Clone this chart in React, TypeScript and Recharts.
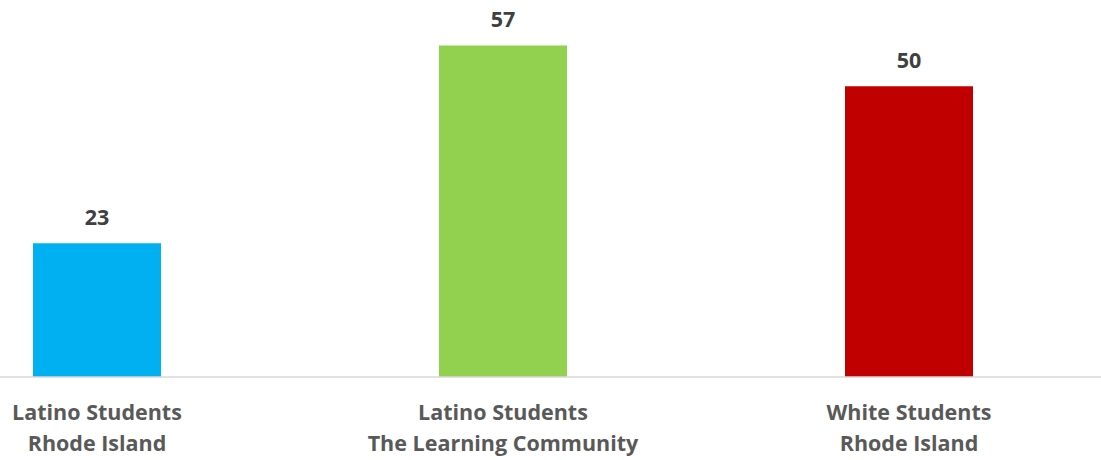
import React from "react";
import { BarChart, Bar, XAxis, YAxis, Cell, LabelList } from "recharts";

const groups = ["Latino Students", "Latino Students", "White Students"];
const places = ["Rhode Island", "The Learning Community", "Rhode Island"];
const values = [23, 57, 50];
const colors = ["#00B0F0", "#92D050", "#C00000"];

const data = values.map((v, i) => ({ name: `${groups[i]}|${places[i]}`, value: v }));

const FONT = "'Open Sans', 'Liberation Sans', sans-serif";

const Tick = (props: any) => {
  const { x, y, payload } = props;
  const [a, b] = String(payload.value).split("|");
  return (
    <text x={x} y={y} textAnchor="middle" fill="#595959" fontFamily={FONT} fontWeight={700} fontSize={21.5}>
      <tspan x={x} y={y + 35}>{a}</tspan>
      <tspan x={x} y={y + 66}>{b}</tspan>
    </text>
  );
};

export default function App() {
  return (
    <div style={{ position: "absolute", left: 0, top: 0 }}>
      <BarChart
        width={1101}
        height={460}
        data={data}
        margin={{ top: 28, right: 0, left: 0, bottom: 0 }}
      >
        <XAxis
          dataKey="name"
          height={83}
          tickLine={false}
          axisLine={{ stroke: "#D9D9D9", strokeWidth: 1.5 }}
          tick={<Tick />}
          interval={0}
          padding={{ left: -106, right: -11 }}
        />
        <YAxis hide domain={[0, 60]} />
        <Bar dataKey="value" barSize={128} isAnimationActive={false}>
          {data.map((d, i) => (
            <Cell key={i} fill={colors[i]} />
          ))}
          <LabelList
            dataKey="value"
            position="top"
            offset={18}
            fill="#404040"
            fontFamily={FONT}
            fontWeight={700}
            fontSize={21.5}
          />
        </Bar>
      </BarChart>
    </div>
  );
}
